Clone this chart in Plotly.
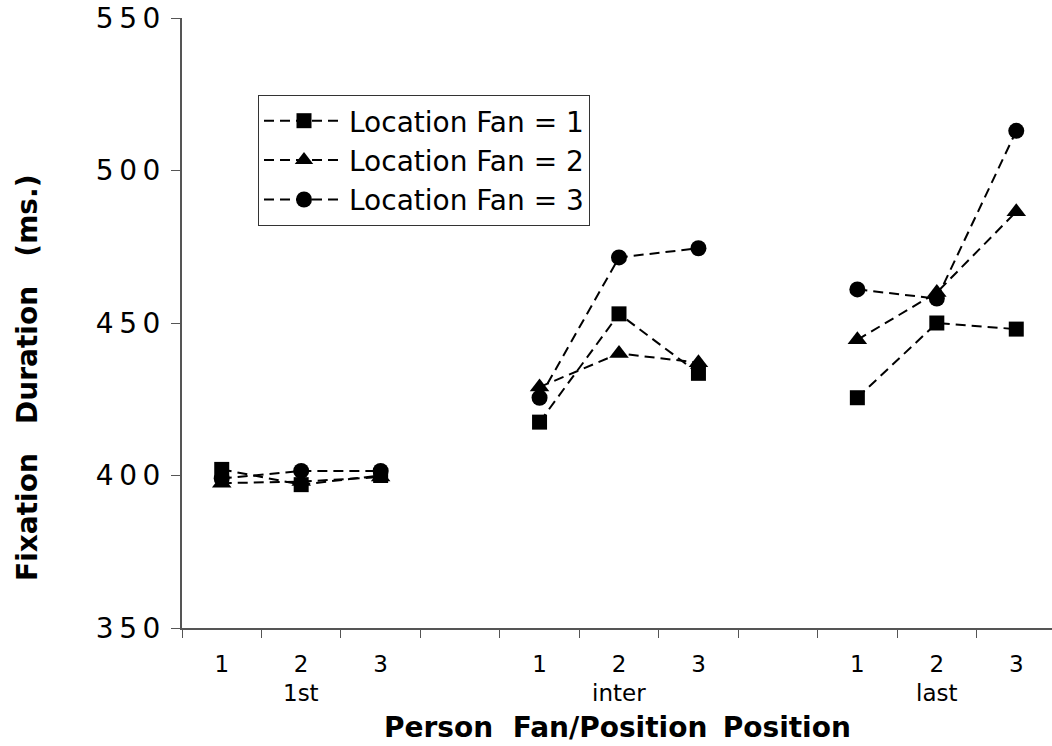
import plotly.graph_objects as go

# ---- data ----
groups = ["1st", "inter", "last"]
person_fan = ["1", "2", "3"]
series_names = ["Location Fan = 1", "Location Fan = 2", "Location Fan = 3"]
fan1_values = [[402, 397, 400], [417.5, 453, 433.5], [425.5, 450, 448]]
fan2_values = [[397.5, 398, 399.5], [429, 440, 437], [444.5, 460, 486.5]]
fan3_values = [[399, 401.5, 401.5], [425.5, 471.5, 474.5], [461, 458, 513]]
y_ticks = [350, 400, 450, 500, 550]

series_values = [fan1_values, fan2_values, fan3_values]
symbols = ["square", "triangle-up", "circle"]
sizes = [15, 17, 16]

FONT = "DejaVu Sans"
slot = len(person_fan) + 1  # one empty slot between groups

fig = go.Figure()
for si, (name, vals) in enumerate(zip(series_names, series_values)):
    for gi, g in enumerate(groups):
        xs = [gi * slot + k for k in range(len(person_fan))]
        fig.add_trace(go.Scatter(
            x=xs, y=vals[gi], name=name, legendgroup=name,
            showlegend=(gi == 0), mode="lines+markers",
            line=dict(color="black", width=2, dash="10px,6px"),
            marker=dict(symbol=symbols[si], size=sizes[si], color="black"),
        ))

n_slots = len(groups) * slot - 1
boundaries = [i - 0.5 for i in range(n_slots + 1)]
centers = [gi * slot + k for gi in range(len(groups)) for k in range(len(person_fan))]
center_text = [t for _ in groups for t in person_fan]

axis_color = "#555555"
fig.update_layout(
    width=1052, height=746,
    margin=dict(l=182, r=0, t=18, b=118),
    plot_bgcolor="white", paper_bgcolor="white",
    font=dict(family=FONT, color="black"),
    xaxis=dict(range=[-0.5, n_slots - 0.5 - 4 / 79.45], tickvals=boundaries,
               showticklabels=False, ticks="outside", ticklen=8,
               tickwidth=1, tickcolor=axis_color, showline=True,
               linecolor=axis_color, linewidth=2, showgrid=False, zeroline=False),
    xaxis2=dict(overlaying="x", matches="x", side="bottom", tickvals=centers,
                ticktext=center_text, ticks="", showline=False, showgrid=False,
                zeroline=False, tickfont=dict(family=FONT, size=23),
                ticklabelstandoff=20),
    yaxis=dict(range=[350, 550], tickvals=y_ticks,
               ticktext=["\u2009".join(str(v)) for v in y_ticks],
               ticks="outside", ticklen=9, tickwidth=1, tickcolor=axis_color,
               showline=True, linecolor=axis_color, linewidth=2,
               showgrid=False, zeroline=False,
               tickfont=dict(family=FONT, size=28), ticklabelstandoff=5),
    legend=dict(x=(258 - 182) / 870, y=(628 - 95) / 610, xanchor="left",
                yanchor="top", bgcolor="white", bordercolor="#333",
                borderwidth=1, font=dict(family=FONT, size=28),
                itemwidth=80, tracegroupgap=0),
    showlegend=True,
)
# dummy trace to activate xaxis2
fig.add_trace(go.Scatter(x=[None], y=[None], xaxis="x2", showlegend=False))

for gi, g in enumerate(groups):
    fig.add_annotation(x=gi * slot + 1, y=(628 - 693) / 610, xref="x", yref="paper",
                       text=g, showarrow=False, font=dict(family=FONT, size=23),
                       xanchor="center", yanchor="middle")

fig.add_annotation(x=0.5, y=(628 - 727) / 610, xref="paper", yref="paper",
                   text="Person\u00a0\u00a0Fan/Position\u00a0\u2009Position", showarrow=False,
                   font=dict(family=FONT, size=28, weight="bold"),
                   xanchor="center", yanchor="middle")
fig.add_annotation(x=(27 - 182) / 870, y=(628 - 378) / 610, xref="paper", yref="paper",
                   text="Fixation\u00a0\u00a0\u00a0Duration\u00a0\u00a0\u00a0(ms.)", showarrow=False,
                   textangle=-90, font=dict(family=FONT, size=28, weight="bold"),
                   xanchor="center", yanchor="middle")

fig.write_html("out.html")
